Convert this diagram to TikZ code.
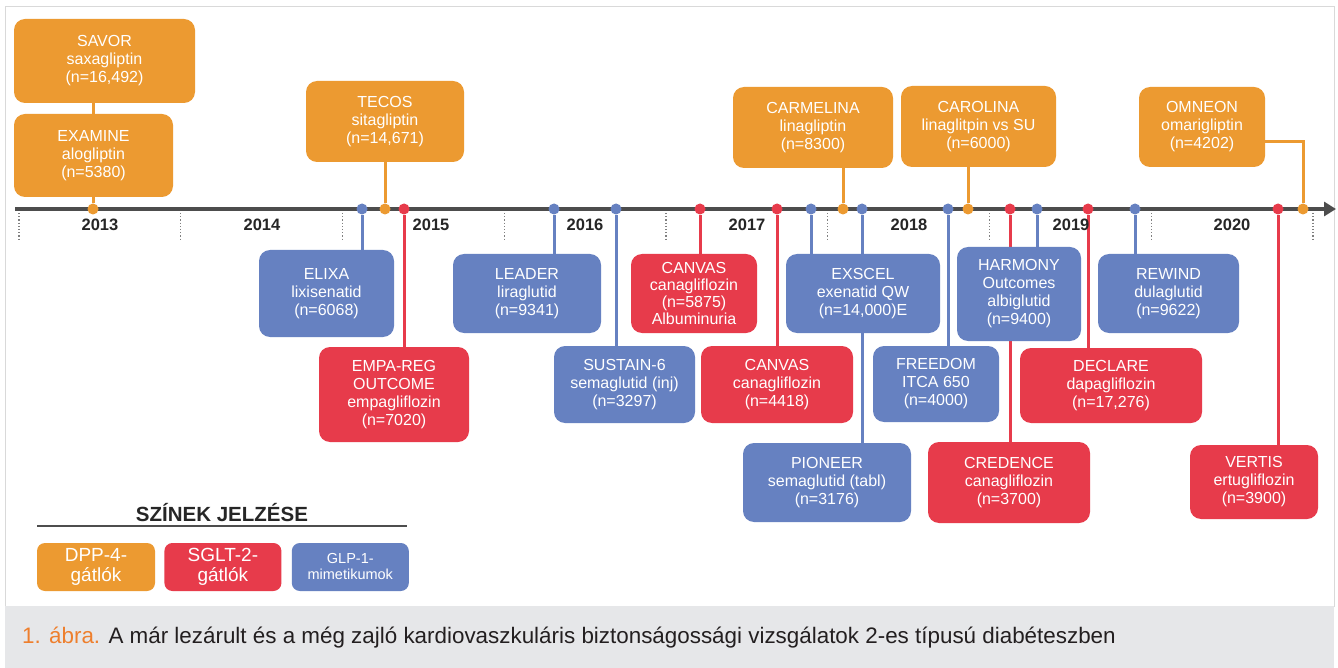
\documentclass[tikz,border=0pt]{standalone}
\usepackage{fontspec}
\setmainfont{Liberation Sans}
\usetikzlibrary{positioning,backgrounds,arrows.meta}

\definecolor{dppor}{HTML}{EC9A31}
\definecolor{sgltred}{HTML}{E73B4B}
\definecolor{glpblue}{HTML}{6681C1}
\definecolor{axisgray}{HTML}{4D4D4D}
\definecolor{framegray}{HTML}{D9D9D9}
\definecolor{capgray}{HTML}{E6E7E9}
\definecolor{caporange}{HTML}{EE7F2D}
\definecolor{captext}{HTML}{231F20}

\tikzset{
    trial/.style={rectangle, rounded corners=11pt, text=white, align=center, inner sep=0pt, font=\fontsize{16}{18}\selectfont},
    dpp/.style={trial, fill=dppor},
    sglt/.style={trial, fill=sgltred},
    glp/.style={trial, fill=glpblue},
    sz/.style 2 args={minimum width=#1pt, minimum height=#2pt},
    dot/.style={circle, inner sep=0pt, minimum size=11pt},
    conn/.style={line width=3pt},
    year/.style={font=\fontsize{16.5}{18}\selectfont\bfseries, text=black!85}
}

\begin{document}
\begin{tikzpicture}[x=1pt, y=-1pt]
    \useasboundingbox (0,0) rectangle (1338,668);

    % timeline
    \coordinate (axL) at (15,209);
    \coordinate (axR) at (1336,209);
    \draw[axisgray, line width=4pt, -{Triangle[length=12pt, width=14pt]}] (axL) -- (axR);
    \foreach \i in {0,...,8}
        \draw[gray, dotted, line width=1.2pt] ({19+161.75*\i},213) -- ++(0,27);
    \foreach \yr/\xx in {2013/100, 2014/262, 2015/431, 2016/585, 2017/747, 2018/909, 2019/1071, 2020/1232}
        \node[year] (y\yr) at (\xx,225) {\yr};

    % DPP-4
    \node[dpp, sz={181}{84}] (savor) at (104.5,61) {SAVOR\\saxagliptin\\(n=16,492)};
    \node[dpp, sz={159}{83}] (examine) at (93.5,155.5) {EXAMINE\\alogliptin\\(n=5380)};
    \node[dpp, sz={158}{81}] (tecos) at (385,121.5) {TECOS\\sitagliptin\\(n=14,671)};
    \node[dpp, sz={160}{81}] (carmelina) at (813,127.5) {CARMELINA\\linagliptin\\(n=8300)};
    \node[dpp, sz={155}{81}] (carolina) at (978.5,126.5) {CAROLINA\\linaglitpin vs SU\\(n=6000)};
    \node[dpp, sz={126}{80}] (omneon) at (1202,127) {OMNEON\\omarigliptin\\(n=4202)};

    % GLP-1
    \node[glp, sz={135}{87}] (elixa) at (326.5,293.5) {ELIXA\\lixisenatid\\(n=6068)};
    \node[glp, sz={148}{79}] (leader) at (527,293.5) {LEADER\\liraglutid\\(n=9341)};
    \node[glp, sz={141}{77}] (sustain) at (624.5,384.5) {SUSTAIN-6\\semaglutid (inj)\\(n=3297)};
    \node[glp, sz={154}{79}] (exscel) at (863,293.5) {EXSCEL\\exenatid QW\\(n=14,000)E};
    \node[glp, sz={126}{76}] (freedom) at (936,384) {FREEDOM\\ITCA 650\\(n=4000)};
    \node[glp, sz={168}{79}] (pioneer) at (827,482.5) {PIONEER\\semaglutid (tabl)\\(n=3176)};
    \node[glp, sz={124}{94}] (harmony) at (1019,294) {HARMONY\\Outcomes\\albiglutid\\(n=9400)};
    \node[glp, sz={141}{79}] (rewind) at (1168.5,293.5) {REWIND\\dulaglutid\\(n=9622)};

    % SGLT-2
    \node[sglt, sz={150}{95}] (empareg) at (394,394.5) {EMPA-REG\\OUTCOME\\empagliflozin\\(n=7020)};
    \node[sglt, sz={126}{79}, font=\fontsize{16}{17}\selectfont] (canvasalb) at (694,293.5) {CANVAS\\canagliflozin\\(n=5875)\\Albuminuria};
    \node[sglt, sz={152}{77}] (canvas) at (777,384.5) {CANVAS\\canagliflozin\\(n=4418)};
    \node[sglt, sz={162}{81}] (credence) at (1009,482.5) {CREDENCE\\canagliflozin\\(n=3700)};
    \node[sglt, sz={182}{75}] (declare) at (1111,385.5) {DECLARE\\dapagliflozin\\(n=17,276)};
    \node[sglt, sz={128}{74}] (vertis) at (1254,482) {VERTIS\\ertugliflozin\\(n=3900)};

    % dots on the timeline
    \foreach \nm/\xx/\cl in {examine/93/dppor, tecos/385/dppor, carmelina/843/dppor, carolina/968/dppor, omneon/1303/dppor,
        elixa/362/glpblue, leader/554/glpblue, sustain/616/glpblue, exscel/811/glpblue, pioneer/862/glpblue,
        freedom/948/glpblue, harmony/1037/glpblue, rewind/1135/glpblue,
        empareg/404/sgltred, canvasalb/700/sgltred, canvas/777/sgltred, credence/1010/sgltred,
        declare/1088/sgltred, vertis/1278/sgltred}
        \node[dot, fill=\cl] (d-\nm) at (\xx,209) {};

    % legend
    \node[font=\fontsize{20.5}{22}\selectfont\bfseries, text=black!85] (legtitle) at (222,513) {SZÍNEK JELZÉSE};
    \draw[axisgray, line width=1.8pt] (37,526) -- (407,526);
    \node[dpp, sz={118}{48}, rounded corners=8pt, font=\fontsize{19}{20}\selectfont] (leg-dpp) at (96,567) {DPP-4-\\gátlók};
    \node[sglt, sz={117}{48}, rounded corners=8pt, font=\fontsize{19}{20}\selectfont, right=9pt of leg-dpp] (leg-sglt) {SGLT-2-\\gátlók};
    \node[glp, sz={117}{48}, rounded corners=8pt, font=\fontsize{14.5}{16}\selectfont, right=10pt of leg-sglt] (leg-glp) {GLP-1-\\mimetikumok};

    % caption
    \node[anchor=west, inner sep=0pt, font=\fontsize{22.4}{24}\selectfont, text=captext] (caption) at (22,638)
        {\textcolor{caporange}{1. ábra.} A már lezárult és a még zajló kardiovaszkuláris biztonságossági vizsgálatok 2-es típusú diabéteszben};

    \begin{pgfonlayer}{background}
        \fill[white] (0,0) rectangle (1338,668);
        \draw[framegray, line width=1pt, fill=white] (5,7) rectangle (1334,606);
        \fill[capgray] (5,606) rectangle (1334,668);
        % connectors
        \draw[conn, dppor] (savor.south -| d-examine) -- (d-examine);
        \draw[conn, dppor] (tecos.south -| d-tecos) -- (d-tecos);
        \draw[conn, dppor] (carmelina.south -| d-carmelina) -- (d-carmelina);
        \draw[conn, dppor] (carolina.south -| d-carolina) -- (d-carolina);
        \draw[conn, dppor] ([yshift=-15pt]omneon.east) -| (d-omneon);
        \foreach \nm in {elixa, leader, sustain, exscel, pioneer, freedom, harmony, rewind}
            \draw[conn, glpblue] (d-\nm) -- (d-\nm |- \nm.north);
        \foreach \nm in {empareg, canvasalb, canvas, credence, declare, vertis}
            \draw[conn, sgltred] (d-\nm) -- (d-\nm |- \nm.north);
    \end{pgfonlayer}
\end{tikzpicture}
\end{document}
